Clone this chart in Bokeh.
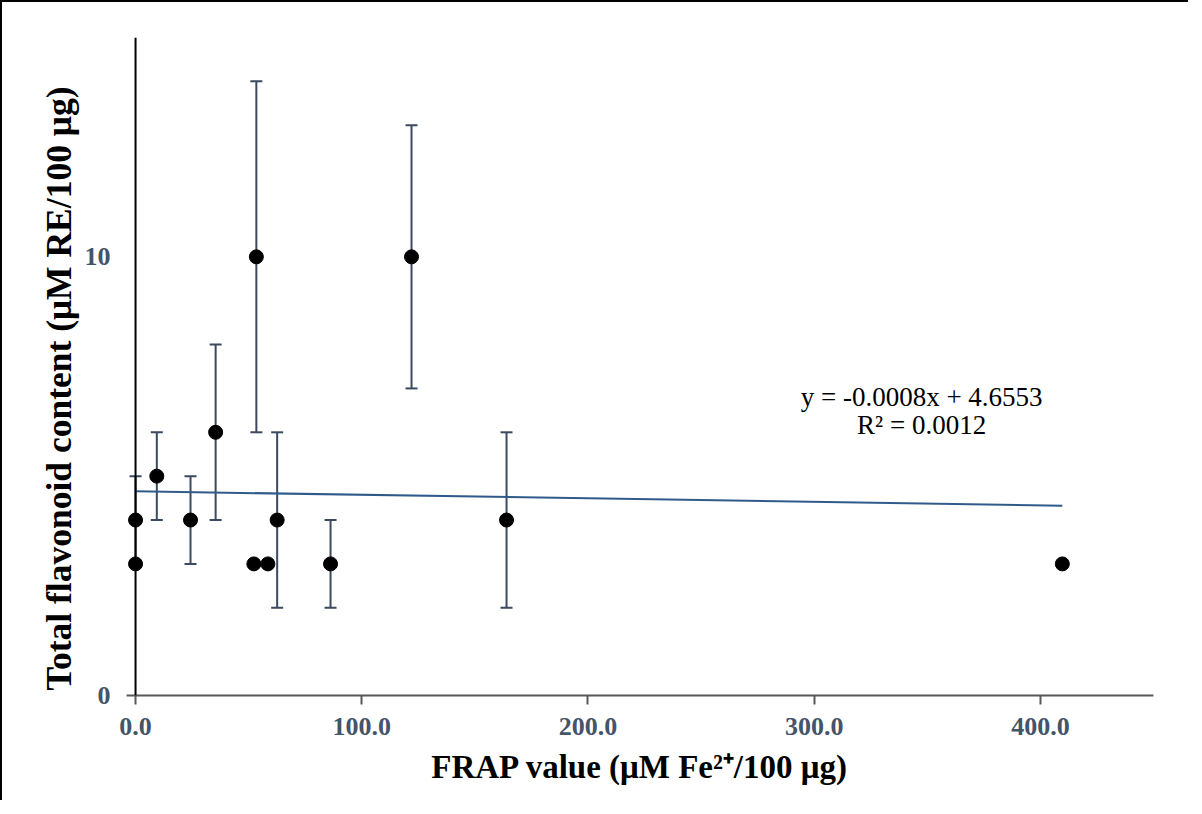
from bokeh.plotting import figure
from bokeh.models import Range1d, FixedTicker, NumeralTickFormatter, Label, ColumnDataSource, Span, Title
from bokeh.embed import file_html
from bokeh.resources import INLINE

# ---- data ----
frap = [0, 0, 9.4, 24.3, 35.4, 53.4, 52.3, 58.5, 62.6, 86.2, 122.0, 164.0, 409.7]
tfc = [4, 3, 5, 4, 6, 10, 3, 3, 4, 3, 10, 4, 3]
err = [1, 0, 1, 1, 2, 4, 0, 0, 2, 1, 3, 2, 0]
slope = -0.0008
intercept = 4.6553
r2 = 0.0012
x_ticks = [0, 100, 200, 300, 400]
y_ticks = [0, 10]
x_title = "FRAP value (μM Fe²⁺/100 μg)"
y_title = "Total flavonoid content (μM RE/100 μg)"

SLATE = "#44546A"
BAR = "#3b4a5e"
SERIF = "Liberation Serif"

p = figure(frame_width=1027, frame_height=658,
           x_range=Range1d(-4, 450), y_range=Range1d(0, 15),
           output_backend="svg", toolbar_location=None,
           min_border_left=124, min_border_right=35,
           min_border_top=35, min_border_bottom=105,
           background_fill_color="white", border_fill_color="white",
           outline_line_color=None,
           styles={"border-top": "2px solid black", "border-left": "2px solid black"})
p.grid.visible = False

# y axis line through x = 0
p.add_layout(Span(location=0, dimension="height", line_color="black", line_width=2))

# error bars
eb_x = [x for x, e in zip(frap, err) if e > 0]
eb_lo = [y - e for y, e in zip(tfc, err) if e > 0]
eb_hi = [y + e for y, e in zip(tfc, err) if e > 0]
eb = ColumnDataSource(dict(x=eb_x, lo=eb_lo, hi=eb_hi))
p.segment(x0="x", y0="lo", x1="x", y1="hi", source=eb, line_color=BAR, line_width=2)
p.scatter(x="x", y="lo", source=eb, marker="dash", size=12, line_color=BAR, line_width=2)
p.scatter(x="x", y="hi", source=eb, marker="dash", size=12, line_color=BAR, line_width=2)

# linear trendline
tx = [0, max(frap)]
ty = [slope * v + intercept for v in tx]
p.line(tx, ty, line_color="#2f5b8a", line_width=2)

# points
p.scatter(frap, tfc, marker="circle", size=14, fill_color="black", line_color="black")

# equation
p.add_layout(Label(x=347.5, y=6.80, text=f"y = {slope:.4f}x + {intercept:.4f}",
                   text_font=SERIF, text_font_size="27px", text_color="black",
                   text_align="center", text_baseline="middle"))
p.add_layout(Label(x=347.5, y=6.16, text=f"R² = {r2:.4f}",
                   text_font=SERIF, text_font_size="27px", text_color="black",
                   text_align="center", text_baseline="middle"))

# y axis title as a side title (start-aligned near the bottom of the axis)
p.add_layout(Title(text=y_title, align="left", offset=5, standoff=5,
                   text_font=SERIF, text_font_style="bold", text_font_size="35.5px",
                   text_color="black"), "left")

# axes
xa = p.xaxis[0]
xa.ticker = FixedTicker(ticks=x_ticks)
xa.formatter = NumeralTickFormatter(format="0.0")
xa.axis_line_color = "#595959"
xa.axis_line_width = 2
xa.major_tick_line_color = "#595959"
xa.major_tick_line_width = 2
xa.major_tick_out = 9
xa.major_tick_in = 0
xa.minor_tick_line_color = None
xa.major_label_text_font = SERIF
xa.major_label_text_font_style = "bold"
xa.major_label_text_font_size = "26px"
xa.major_label_text_color = SLATE
xa.major_label_standoff = 13
xa.axis_label = x_title
xa.axis_label_text_font = SERIF
xa.axis_label_text_font_style = "bold"
xa.axis_label_text_font_size = "33px"
xa.axis_label_text_color = "black"
xa.axis_label_standoff = 11

ya = p.yaxis[0]
ya.ticker = FixedTicker(ticks=y_ticks)
ya.axis_line_color = None
ya.major_tick_line_color = None
ya.major_tick_out = 0
ya.major_tick_in = 0
ya.minor_tick_line_color = None
ya.major_label_text_font = SERIF
ya.major_label_text_font_style = "bold"
ya.major_label_text_font_size = "26px"
ya.major_label_text_color = SLATE
ya.major_label_standoff = 16

open("out.html", "w").write(file_html(p, INLINE))
